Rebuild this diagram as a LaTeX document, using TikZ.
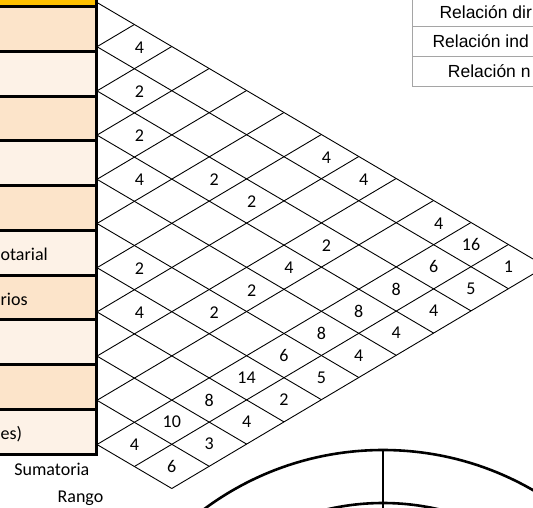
\documentclass[tikz,border=0pt]{standalone}
\usepackage{fontspec}
\setmainfont{Carlito}
\newfontfamily\legendfont{Liberation Sans}
\definecolor{headeryellow}{RGB}{255,192,0}
\definecolor{peachdark}{RGB}{252,228,202}
\definecolor{peachlight}{RGB}{253,242,231}
\definecolor{legendgray}{RGB}{165,165,165}

\begin{document}
\begin{tikzpicture}[
    x=1pt, y=-1pt,
    boxline/.style={line width=3pt},
    gridline/.style={line width=0.9pt},
    ringline/.style={line width=2.6pt},
    num/.style={font=\fontsize{18}{20}\selectfont, inner sep=0pt},
    rowlabel/.style={font=\fontsize{18}{20}\selectfont, inner sep=0pt, anchor=base east},
    rowtext/.style={font=\fontsize{18}{20}\selectfont, inner sep=0pt, anchor=base west},
    legcell/.style={draw=legendgray, line width=0.8pt, minimum width=178.6pt, minimum height=30pt, inner sep=0pt},
    legtext/.style={font=\legendfont\fontsize{17.5}{20}\selectfont, inner sep=0pt, anchor=base west}
]
\useasboundingbox (0,0) rectangle (533,507);
\clip (0,0) rectangle (533,507);

% Header and row boxes
\fill[headeryellow] (-5,-5) rectangle (96.5,6.7);
\foreach \k in {0,2,4,6,8}
  \draw[boxline, fill=peachdark] (-5,{6.7+44.73*\k}) rectangle (96.5,{6.7+44.73*(\k+1)});
\foreach \k in {1,3,5,7,9}
  \draw[boxline, fill=peachlight] (-5,{6.7+44.73*\k}) rectangle (96.5,{6.7+44.73*(\k+1)});
\draw[boxline] (96.5,-5) -- (96.5,6.7);

% Row texts
\node[rowtext] (txt6) at (0.5,260) {otarial};
\node[rowtext] (txt7) at (0.5,305) {rios};
\node[rowtext] (txt10) at (0.5,439) {es)};
\node[rowlabel] (sumlabel) at (89.5,475) {Sumatoria};
\node[rowlabel] (ranklabel) at (103.5,502) {Rango};

% Legend
\node[legcell] (legdir) at (502,11.7) {};
\node[legcell] (legind) at (502,41.7) {};
\node[legcell] (legnul) at (502,71.7) {};
\node[legtext] (legdirtext) at (439.3,18.2) {Relación dir};
\node[legtext] (legindtext) at (432.3,47.3) {Relación ind};
\node[legtext] (legnultext) at (447.7,77.2) {Relación n};

% Roof matrix
\begin{scope}[shift={(97,2.5)}, x={(-37.4pt,-22.2pt)}, y={(37.4pt,-22.0pt)}]
  \foreach \a in {0,...,10}
    \draw[gridline] (\a,\a) -- (\a,12);
  \foreach \b in {1,...,10}
    \draw[gridline] (\b,\b) -- (0,\b);
  \draw[gridline] (10,11) -- (0,11);
  \draw[gridline] (10,12) -- (0,12);
  % relations
  \foreach \i/\j/\v in {1/2/4, 2/3/2, 3/4/2, 4/5/4, 3/6/2, 3/7/2, 1/7/4, 1/8/4,
      1/10/4, 3/9/2, 4/9/4, 5/9/2, 6/9/2, 6/7/2, 7/8/4}
    \node[num, xshift=5pt, yshift=-1pt] (c\i-\j) at (\i-0.5,\j-0.5) {\v};
  % sums and ranks
  \foreach \i/\j/\v in {1/11/16, 2/11/6, 3/11/8, 4/11/8, 5/11/8, 6/11/6, 7/11/14, 8/11/8, 9/11/10, 10/11/4,
      1/12/1, 2/12/5, 3/12/4, 4/12/4, 5/12/4, 6/12/5, 7/12/2, 8/12/4, 9/12/3, 10/12/6}
    \node[num] (c\i-\j) at (\i-0.5,\j-0.5) {\v};
\end{scope}

% Ring
\coordinate (ringc) at (383,750);
\draw[ringline] (ringc) circle[radius=300pt];
\draw[ringline] (ringc) circle[radius=247pt];
\draw[line width=1.2pt] (ringc) -- ++(0,-300);

\end{tikzpicture}
\end{document}
